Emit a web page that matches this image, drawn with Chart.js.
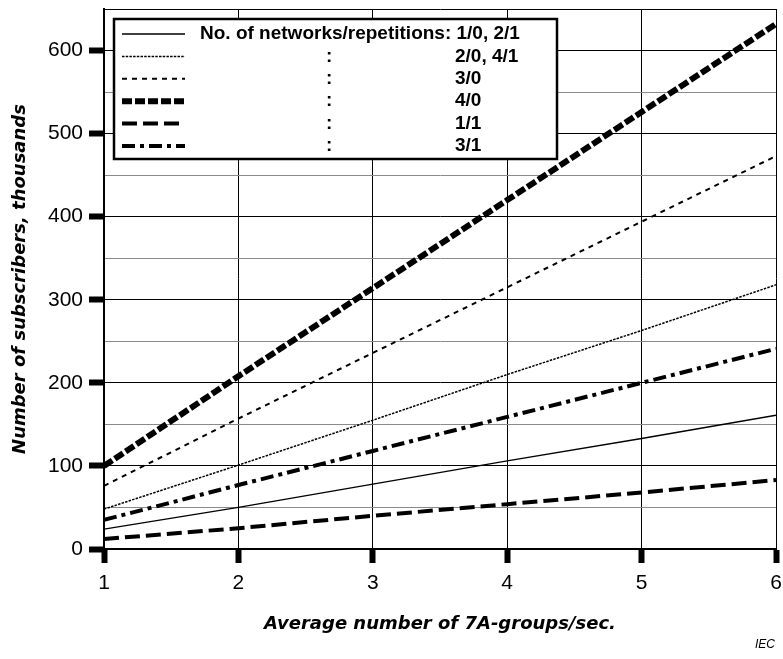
<!DOCTYPE html>
<html>
<head>
<meta charset="utf-8">
<script src="https://cdn.jsdelivr.net/npm/chart.js@4"></script>
<style>
  html, body { margin: 0; padding: 0; background: #fff; }
</style>
</head>
<body>
<canvas id="subsChart" width="783" height="659"></canvas>
<script>
// values (thousands of subscribers)
var groupsPerSec = [1, 2, 3, 4, 5, 6];
var net10 = [24, 50, 78, 106, 133, 161];    // 1/0, 2/1
var net20 = [48, 101, 155, 210, 263, 318];  // 2/0, 4/1
var net30 = [76, 157, 236, 315, 394, 473];  // 3/0
var net40 = [100, 208, 314, 420, 526, 632]; // 4/0
var net11 = [12, 25, 40, 54, 68, 83];       // 1/1
var net31 = [35, 77, 118, 159, 200, 241];   // 3/1
var seriesNames = ["1/0, 2/1", "2/0, 4/1", "3/0", "4/0", "1/1", "3/1"];
var yTickLabels = [0, 100, 200, 300, 400, 500, 600];
var xTickLabels = [1, 2, 3, 4, 5, 6];

function pts(vals) {
    return vals.map(function (v, i) { return { x: groupsPerSec[i], y: v }; });
}

var lineStyles = [
    { w: 1.3, dash: [] },
    { w: 1.5, dash: [2.5, 1.2] },
    { w: 2, dash: [5, 5] },
    { w: 6, dash: [10, 3] },
    { w: 4, dash: [15, 6] },
    { w: 4, dash: [13, 5, 4, 5] }
];
var allSeries = [net10, net20, net30, net40, net11, net31];

var datasets = allSeries.map(function (s, i) {
    return {
        label: seriesNames[i],
        data: pts(s),
        showLine: true,
        borderColor: "#000",
        borderWidth: lineStyles[i].w,
        borderDash: lineStyles[i].dash,
        borderCapStyle: "butt",
        pointRadius: 0,
        fill: false
    };
});

// the boxed legend in the upper left of the plot
var boxLegend = {
    id: "boxLegend",
    afterDraw: function (chart) {
        var ctx = chart.ctx;
        var a = chart.chartArea;
        var left = a.left + 10, top = a.top + 10;
        ctx.save();
        ctx.fillStyle = "#fff";
        ctx.fillRect(left, top, 443, 140);
        ctx.lineWidth = 2.5;
        ctx.strokeStyle = "#000";
        ctx.strokeRect(left, top, 443, 140);
        ctx.fillStyle = "#000";
        ctx.font = "bold 19px 'Liberation Sans'";
        ctx.textBaseline = "middle";
        chart.data.datasets.forEach(function (ds, i) {
            var y = top + 15 + i * 22.4;
            ctx.beginPath();
            ctx.setLineDash(ds.borderDash);
            ctx.lineWidth = ds.borderWidth;
            ctx.moveTo(left + 8, y);
            ctx.lineTo(left + 71, y);
            ctx.stroke();
            ctx.setLineDash([]);
            if (i === 0) {
                ctx.fillText("No. of networks/repetitions: " + ds.label, left + 86, y);
            } else {
                ctx.fillText(":", left + 212, y);
                ctx.fillText(ds.label, left + 341, y);
            }
        });
        ctx.font = "italic 12px 'Liberation Sans'";
        ctx.textAlign = "right";
        ctx.fillText("IEC", 775, 645);
        ctx.restore();
    }
};

var tickFont = { family: "Liberation Sans", size: 21 };
var titleFont = { family: "DejaVu Sans", size: 18, weight: "bold", style: "italic" };

new Chart("subsChart", {
    type: "scatter",
    data: { datasets: datasets },
    plugins: [boxLegend],
    options: {
        responsive: false,
        animation: false,
        layout: { padding: { top: 9, right: 7, left: 0, bottom: 0 } },
        plugins: {
            legend: { display: false },
            tooltip: { enabled: false }
        },
        scales: {
            x: {
                type: "linear",
                min: 1,
                max: 6,
                afterFit: function (s) { s.height = 110; s.paddingLeft = 0; s.paddingRight = 0; },
                ticks: {
                    stepSize: 1,
                    color: "#000",
                    font: tickFont,
                    padding: 8,
                    maxRotation: 0,
                    callback: function (v) { return xTickLabels.indexOf(v) >= 0 ? v : ""; }
                },
                grid: { color: "#000", lineWidth: 1, tickLength: 14, tickWidth: 6, tickColor: "#000" },
                border: { color: "#000", width: 2 },
                title: {
                    display: true,
                    text: "Average number of 7A-groups/sec.",
                    color: "#000",
                    font: titleFont,
                    padding: { top: 0, bottom: 24 }
                }
            },
            y: {
                min: 0,
                max: 650,
                afterFit: function (s) { s.width = 104; s.paddingTop = 0; s.paddingBottom = 0; },
                ticks: {
                    stepSize: 50,
                    color: "#000",
                    font: tickFont,
                    padding: 6,
                    callback: function (v) { return yTickLabels.indexOf(v) >= 0 ? v : ""; }
                },
                grid: {
                    lineWidth: 1,
                    color: function (c) { return (c.tick.value % 100 === 0 || c.tick.value === 650) ? "#000" : "#8a8a8a"; },
                    tickLength: 15,
                    tickWidth: 6,
                    tickColor: function (c) { return c.tick.value % 100 === 0 ? "#000" : "rgba(0,0,0,0)"; }
                },
                border: { color: "#000", width: 2 },
                title: {
                    display: true,
                    text: "Number of subscribers, thousands",
                    color: "#000",
                    font: titleFont,
                    padding: { top: 10, bottom: 10 }
                }
            }
        }
    }
});
</script>
</body>
</html>
